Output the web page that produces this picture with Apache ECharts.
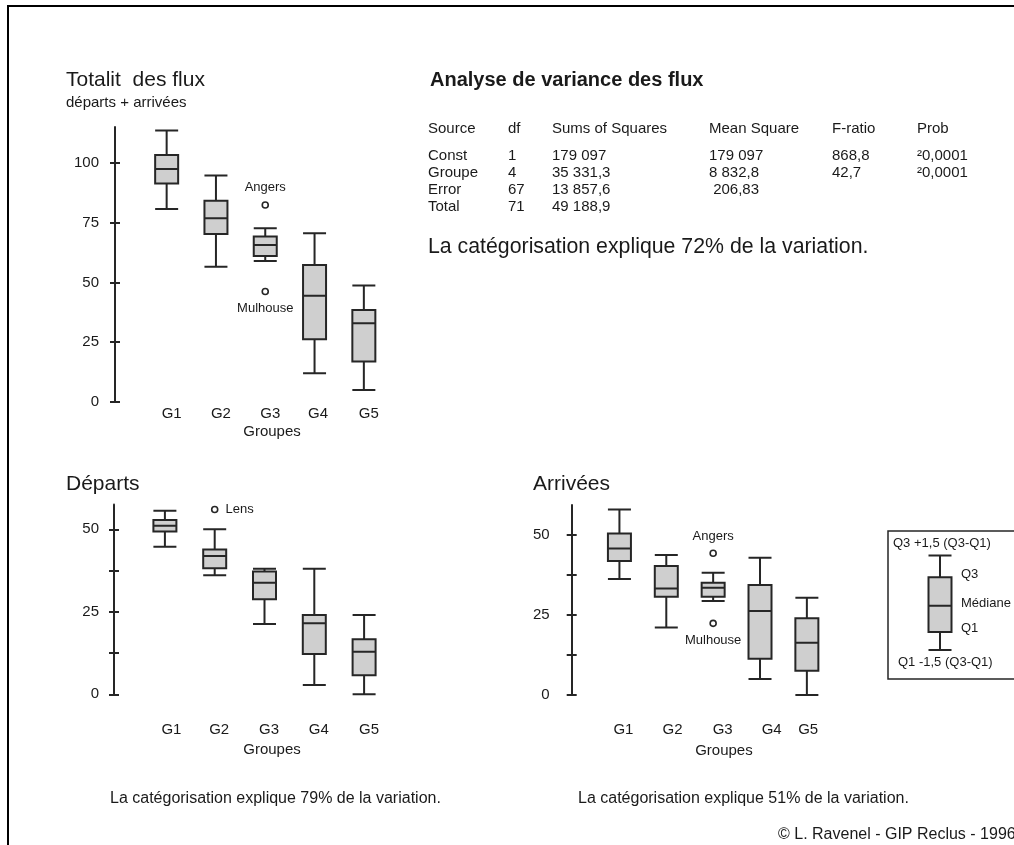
<!DOCTYPE html>
<html><head><meta charset="utf-8">
<script src="https://cdn.jsdelivr.net/npm/echarts@6/dist/echarts.min.js"></script>
<style>html,body{margin:0;padding:0;background:#fff}#c{width:1014px;height:845px}</style>
</head><body><div id="c"></div>
<script>
// ---------- data ----------
const groups = ['G1', 'G2', 'G3', 'G4', 'G5'];
// [min whisker, Q1, median, Q3, max whisker]
const totalBoxes = [
  [80.7, 91.4, 97.4, 103.3, 113.5],
  [56.6, 70.3, 76.8, 84.2, 94.7],
  [59.0, 61.1, 65.7, 69.2, 72.7],
  [12.0, 26.2, 44.4, 57.3, 70.6],
  [5.0, 16.9, 32.9, 38.5, 48.7]
];
const totalOutliers = [[2, 82.4], [2, 46.2]];
const totalOutlierNames = ['Angers', 'Mulhouse'];

const departBoxes = [
  [44.7, 49.3, 51.1, 52.8, 55.6],
  [36.1, 38.2, 41.9, 43.9, 50.0],
  [21.3, 28.8, 33.8, 37.2, 38.0],
  [2.8, 12.2, 21.5, 24.0, 38.0],
  [0.0, 5.8, 12.9, 16.7, 24.0]
];
const departOutliers = [[1, 56.0]];
const departOutlierNames = ['Lens'];

const arriveeBoxes = [
  [36.3, 41.9, 45.8, 50.5, 58.0],
  [21.1, 30.7, 33.3, 40.3, 43.8],
  [29.4, 30.7, 33.5, 35.1, 38.2],
  [5.0, 11.3, 26.3, 34.4, 42.9],
  [0.0, 7.6, 16.3, 24.0, 30.4]
];
const arriveeOutliers = [[2, 44.3], [2, 22.4]];
const arriveeOutlierNames = ['Angers', 'Mulhouse'];

const totalTicks = [0, 25, 50, 75, 100];
const subTicks = [0, 12.5, 25, 37.5, 50];
const subTickLabels = [0, 25, 50];

const legendBox = [20, 32, 49.5, 68.5, 83];
const legendTexts = ['Q3 +1,5 (Q3-Q1)', 'Q3', 'Médiane', 'Q1', 'Q1 -1,5 (Q3-Q1)'];

const tableHeader = ['Source', 'df', 'Sums of Squares', 'Mean Square', 'F-ratio', 'Prob'];
const tableRows = [
  ['Const', '1', '179 097', '179 097', '868,8', '²0,0001'],
  ['Groupe', '4', '35 331,3', '8 832,8', '42,7', '²0,0001'],
  ['Error', '67', '13 857,6', ' 206,83', '', ''],
  ['Total', '71', '49 188,9', '', '', '']
];

// ---------- style ----------
const FONT = '"Liberation Sans", Arial, Helvetica, sans-serif';
const INK = '#1a1a1a';
const LINE = '#262626';
const FILL = '#cfcfcf';
const labelPos = { Angers: 'top', Mulhouse: 'bottom', Lens: 'right' };

function xAxis(gridIndex, margin, shifts, namePad, nameGap) {
  const rich = {};
  shifts.forEach((s, i) => {
    rich['a' + i] = { fontSize: 15, fontFamily: FONT, color: INK, padding: [0, 0, 0, 2 * s] };
  });
  return {
    type: 'category', gridIndex, data: groups, boundaryGap: true,
    axisLine: { show: false }, axisTick: { show: false }, splitLine: { show: false },
    axisLabel: {
      margin, interval: 0, fontSize: 15, fontFamily: FONT, color: INK,
      formatter: (v, i) => '{a' + i + '|' + v + '}', rich
    },
    name: 'Groupes', nameLocation: 'middle', nameGap,
    nameTextStyle: { fontSize: 15, fontFamily: FONT, color: INK, padding: [0, 0, 0, namePad] }
  };
}
function yAxes(gridIndex, max, ticks, labels, offset, margin) {
  const common = {
    type: 'value', gridIndex, min: 0, max, position: 'left', offset,
    splitLine: { show: false }
  };
  return [
    Object.assign({}, common, {
      axisLine: { show: true, lineStyle: { color: LINE, width: 2 } },
      axisTick: { show: true, inside: false, length: 5, customValues: ticks, lineStyle: { color: LINE, width: 2 } },
      axisLabel: { show: true, customValues: labels, margin, fontSize: 15, fontFamily: FONT, color: INK }
    }),
    Object.assign({}, common, {
      axisLine: { show: false },
      axisTick: { show: true, inside: true, length: 5, customValues: ticks, lineStyle: { color: LINE, width: 2 } },
      axisLabel: { show: false }
    })
  ];
}
function boxSeries(xi, yi, data) {
  return {
    type: 'boxplot', xAxisIndex: xi, yAxisIndex: yi, data, boxWidth: [23, 23],
    itemStyle: { color: FILL, borderColor: LINE, borderWidth: 2 },
    emphasis: { disabled: true }, silent: true
  };
}
function outlierSeries(xi, yi, pts, names) {
  return {
    type: 'scatter', xAxisIndex: xi, yAxisIndex: yi, symbol: 'circle', symbolSize: 6,
    itemStyle: { color: '#fff', borderColor: LINE, borderWidth: 1.6, opacity: 1 },
    data: pts.map((p, i) => ({
      value: p,
      label: { show: true, position: labelPos[names[i]], distance: 7, formatter: names[i],
               fontSize: 13, fontFamily: FONT, color: INK }
    })),
    emphasis: { disabled: true }, silent: true
  };
}
function txt(text, x, y, size, extra) {
  return {
    type: 'text', silent: true,
    style: Object.assign({
      text, x, y, fontSize: size, fontFamily: FONT, fill: INK,
      align: 'left', verticalAlign: 'middle', textAlign: 'left', textVerticalAlign: 'middle'
    }, extra || {})
  };
}

// ---------- graphics (titles, table, legend texts) ----------
const graphics = [];
graphics.push({ type: 'rect', silent: true, shape: { x: 8, y: 6, width: 1040, height: 880 },
  style: { fill: 'none', stroke: '#000', lineWidth: 2 } });
graphics.push(txt('Totalit  des flux', 66, 80, 21));
graphics.push(txt('départs + arrivées', 66, 103, 15));
graphics.push(txt('Analyse de variance des flux', 430, 80, 20, { fontWeight: 'bold' }));
const colX = [428, 508, 552, 709, 832, 917];
const rowY = [129, 156, 173, 190, 207];
tableHeader.forEach((h, j) => graphics.push(txt(h, colX[j], rowY[0], 15)));
tableRows.forEach((r, i) => r.forEach((c, j) => { if (c) graphics.push(txt(c, colX[j], rowY[i + 1], 15)); }));
graphics.push(txt('La catégorisation explique 72% de la variation.', 428, 247, 21.3));
graphics.push(txt('Départs', 66, 484, 21));
graphics.push(txt('Arrivées', 533, 484, 21));
graphics.push(txt('La catégorisation explique 79% de la variation.', 110, 799, 16));
graphics.push(txt('La catégorisation explique 51% de la variation.', 578, 799, 16));
graphics.push(txt('© L. Ravenel - GIP Reclus - 1996', 778, 835, 16));
// legend frame and texts
graphics.push({ type: 'rect', silent: true, shape: { x: 888, y: 531, width: 150, height: 148 },
  style: { fill: 'none', stroke: LINE, lineWidth: 1.5 } });
const legX = [893, 961, 961, 961, 898];
const legY = [543, 574, 603, 628, 662];
legendTexts.forEach((t, i) => graphics.push(txt(t, legX[i], legY[i], 13)));

// ---------- chart ----------
const chart = echarts.init(document.getElementById('c'), null, { renderer: 'canvas' });
const option = {
  animation: false,
  backgroundColor: '#fff',
  grid: [
    { left: 142, top: 127, width: 246.5, height: 275 },
    { left: 140, top: 504.5, width: 249, height: 189.8 },
    { left: 596, top: 505, width: 234.3, height: 190 },
    { left: 929, top: 530, width: 22, height: 150 }
  ],
  xAxis: [
    xAxis(0, 4.5, [5, 5, 5, 3.5, 5], 13.5, 22.5),
    xAxis(1, 28, [6.5, 4.5, 4.5, 4.5, 5], 15, 48),
    xAxis(2, 27.5, [4, 6.3, 9.5, 11.7, 1.3], 21.6, 48.5),
    { type: 'category', gridIndex: 3, data: ['L'], show: false }
  ],
  yAxis: [
    ...yAxes(0, 115, totalTicks, totalTicks, 27, 16),
    ...yAxes(1, 57.5, subTicks, subTickLabels, 26, 15),
    ...yAxes(2, 59.4, subTicks, subTickLabels, 24.3, 22),
    { type: 'value', gridIndex: 3, min: 0, max: 100, show: false }
  ],
  series: [
    boxSeries(0, 0, totalBoxes),
    outlierSeries(0, 0, totalOutliers, totalOutlierNames),
    boxSeries(1, 2, departBoxes),
    outlierSeries(1, 2, departOutliers, departOutlierNames),
    boxSeries(2, 4, arriveeBoxes),
    outlierSeries(2, 4, arriveeOutliers, arriveeOutlierNames),
    boxSeries(3, 6, [legendBox])
  ],
  graphic: { elements: graphics }
};
chart.setOption(option);
</script>
</body></html>
